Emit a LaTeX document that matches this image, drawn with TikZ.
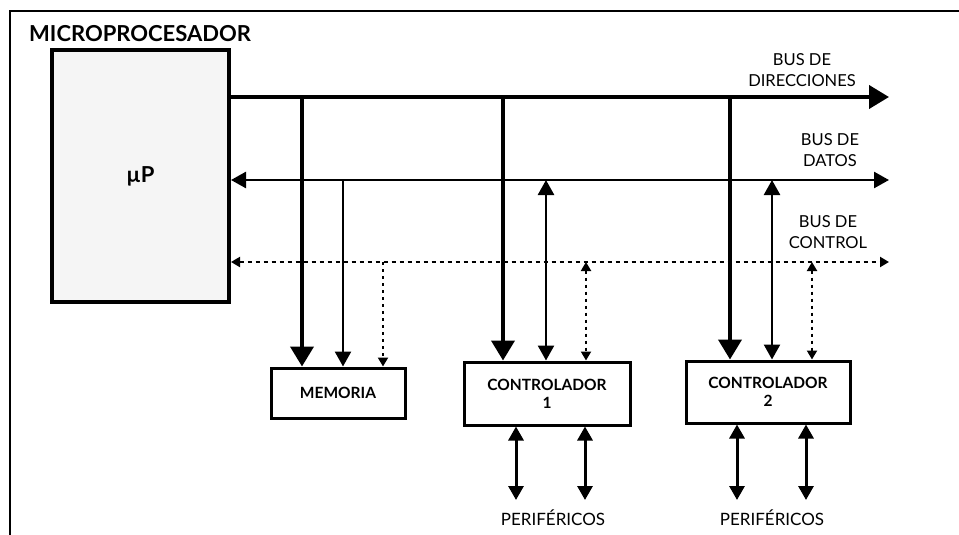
\documentclass[tikz,border=0pt]{standalone}
\usepackage{fontspec}
\setmainfont{Lato}
\usetikzlibrary{arrows.meta}
\tikzset{
  bigtip/.tip={Triangle[length=20pt,width=23pt]},
  dattip/.tip={Triangle[length=15pt,width=16pt]},
  ctltip/.tip={Triangle[length=9pt,width=10pt]},
  pertip/.tip={Triangle[length=14pt,width=15pt]},
  blk/.style={draw, line width=3pt, inner sep=0pt, align=center,
    font=\bfseries\fontsize{15.5}{18}\selectfont},
  addr/.style={line width=4pt},
  dat/.style={line width=2.5pt},
  ctl/.style={line width=2pt, dash pattern=on 4pt off 4pt},
  ctlv/.style={line width=2pt, dash pattern=on 3pt off 4pt},
  per/.style={line width=3pt},
  lbl/.style={align=center, inner sep=0pt, font=\fontsize{16.5}{21}\selectfont},
}
\begin{document}
\begin{tikzpicture}[x=1pt, y=-1pt]
  \useasboundingbox (0,0) rectangle (959,535);
  \draw [line width=1.2pt] (10,535) -- (10,11) -- (959,11);
  \node [anchor=west, inner sep=0pt, font=\bfseries\fontsize{22}{24}\selectfont] (title) at (29,34) {MICROPROCESADOR};
  % blocks
  \node [blk, line width=4pt, fill=black!4, minimum width=177pt, minimum height=252pt,
    font=\bfseries\fontsize{22}{24}\selectfont] (mp) at (140.5,176) {\raisebox{-5pt}{µP}};
  \node [blk, minimum width=134pt, minimum height=50pt] (mem) at (338,393) {MEMORIA};
  \node [blk, minimum width=166pt, minimum height=63pt] (c1) at (547,393.5) {CONTROLADOR\\1};
  \node [blk, minimum width=164pt, minimum height=62pt] (c2) at (768,392) {CONTROLADOR\\2};
  % buses
  \coordinate (ae) at (889,97);
  \coordinate (de) at (889,180);
  \coordinate (ce) at (889,262);
  \draw [addr, -bigtip] (mp.east |- ae) -- (ae);
  \draw [dat, dattip-dattip] (mp.east |- de) -- (de);
  \draw [ctl, ctltip-ctltip] (mp.east |- ce) -- (ce);
  \node [lbl] (la) at (802,70) {BUS DE\\DIRECCIONES};
  \node [lbl] (ld) at (830,150) {BUS DE\\DATOS};
  \node [lbl] (lc) at (828,232) {BUS DE\\CONTROL};
  % memoria
  \coordinate (ma) at (302,97);
  \coordinate (md) at (343,180);
  \coordinate (mc) at (383,262);
  \draw [addr, -bigtip] (ma) -- (ma |- mem.north);
  \draw [dat, -dattip] (md) -- (md |- mem.north);
  \draw [ctlv, -ctltip] (mc) -- (mc |- mem.north);
  % controlador 1
  \coordinate (1a) at (503,97);
  \coordinate (1d) at (546,180);
  \coordinate (1c) at (586,262);
  \draw [addr, -bigtip] (1a) -- (1a |- c1.north);
  \draw [dat, dattip-dattip] (1d) -- (1d |- c1.north);
  \draw [ctlv, ctltip-ctltip] (1c) -- (1c |- c1.north);
  % controlador 2
  \coordinate (2a) at (730,97);
  \coordinate (2d) at (772,180);
  \coordinate (2c) at (812,262);
  \draw [addr, -bigtip] (2a) -- (2a |- c2.north);
  \draw [dat, dattip-dattip] (2d) -- (2d |- c2.north);
  \draw [ctlv, ctltip-ctltip] (2c) -- (2c |- c2.north);
  % perifericos
  \coordinate (p1) at (516,500);
  \coordinate (p2) at (585,500);
  \coordinate (p3) at (737,500);
  \coordinate (p4) at (806,500);
  \draw [per, pertip-pertip] (c1.south -| p1) -- (p1);
  \draw [per, pertip-pertip] (c1.south -| p2) -- (p2);
  \draw [per, pertip-pertip] (c2.south -| p3) -- (p3);
  \draw [per, pertip-pertip] (c2.south -| p4) -- (p4);
  \node [lbl, font=\fontsize{17}{21}\selectfont] (pf1) at (553,518) {PERIFÉRICOS};
  \node [lbl, font=\fontsize{17}{21}\selectfont] (pf2) at (772,518) {PERIFÉRICOS};
\end{tikzpicture}
\end{document}
